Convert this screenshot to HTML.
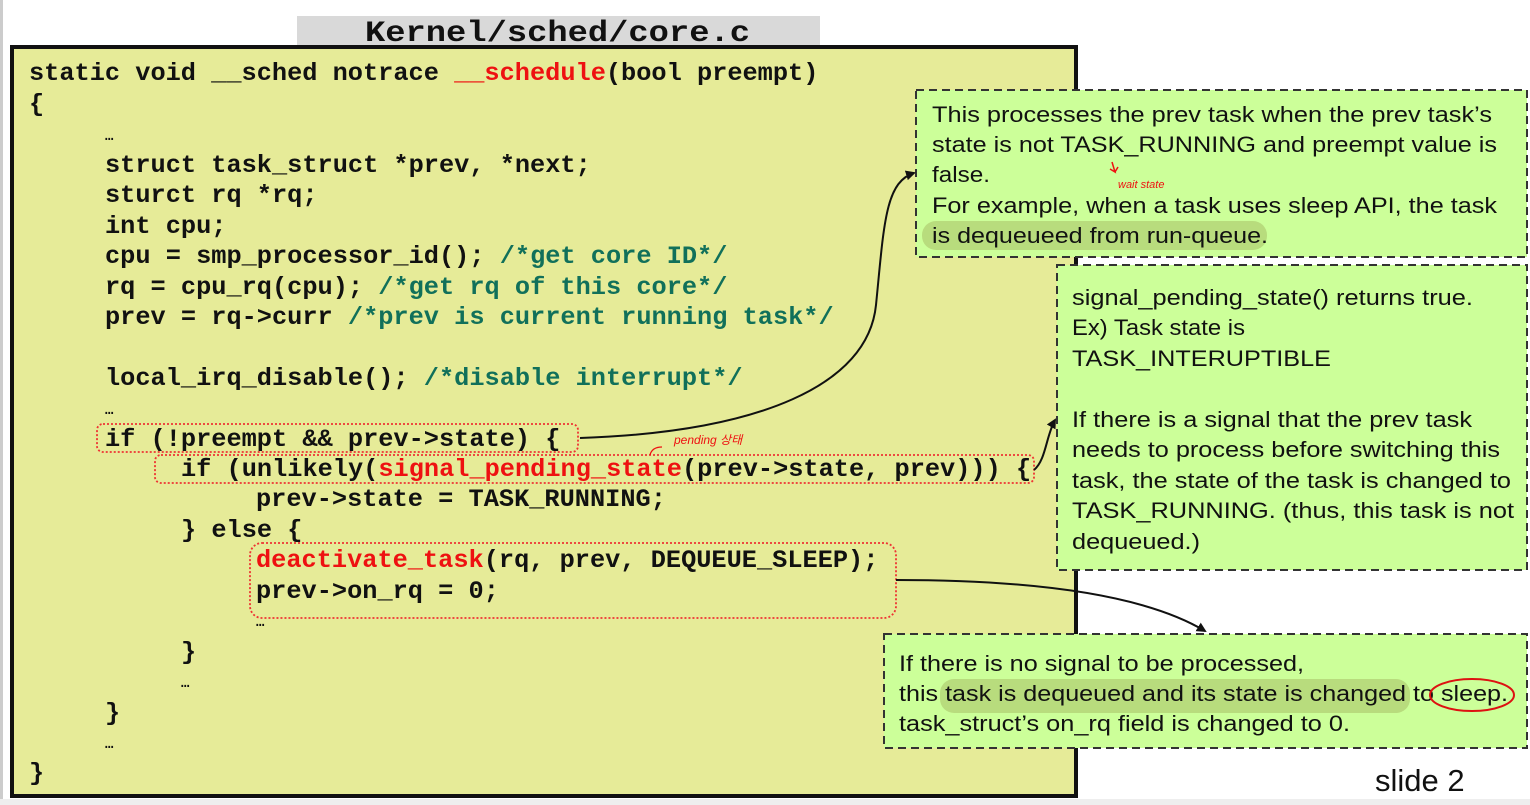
<!DOCTYPE html>
<html><head><meta charset="utf-8"><style>
html,body{margin:0;padding:0;background:#fff;}
svg{display:block}
.c{font-family:"Liberation Mono",monospace;font-weight:bold;font-size:25.3px;fill:#111;}
.r{fill:#ee1111}
.g{fill:#11705a}
.s{font-family:"Liberation Sans",sans-serif;font-size:22px;fill:#111;}
</style></head><body>
<svg width="1530" height="805" viewBox="0 0 1530 805" xmlns="http://www.w3.org/2000/svg">
<rect x="0" y="0" width="1530" height="805" fill="#fff"/>
<rect x="0" y="0" width="3" height="805" fill="#ccc"/>
<rect x="0" y="799" width="1530" height="6" fill="#eee"/>
<!-- title -->
<rect x="297" y="16" width="523" height="30" fill="#d9d9d9"/>
<text x="365" y="41" class="c" style="font-size:30px" textLength="385" lengthAdjust="spacingAndGlyphs">Kernel/sched/core.c</text>
<!-- code box -->
<rect x="12" y="47" width="1064" height="749" fill="#e6eb98" stroke="#111" stroke-width="4"/>
<g class="c">
<text x="29" y="80">static void __sched notrace <tspan class="r">__schedule</tspan>(bool preempt)</text>
<text x="29" y="111">{</text>
<text x="105" y="140" style="font-size:14px">…</text>
<text x="105" y="172">struct task_struct *prev, *next;</text>
<text x="105" y="202">sturct rq *rq;</text>
<text x="105" y="233">int cpu;</text>
<text x="105" y="263">cpu = smp_processor_id(); <tspan class="g">/*get core ID*/</tspan></text>
<text x="105" y="294">rq = cpu_rq(cpu); <tspan class="g">/*get rq of this core*/</tspan></text>
<text x="105" y="324">prev = rq-&gt;curr <tspan class="g">/*prev is current running task*/</tspan></text>
<text x="105" y="385">local_irq_disable(); <tspan class="g">/*disable interrupt*/</tspan></text>
<text x="105" y="414" style="font-size:14px">…</text>
<text x="105" y="446">if (!preempt &amp;&amp; prev-&gt;state) {</text>
<text x="181" y="476">if (unlikely(<tspan class="r">signal_pending_state</tspan>(prev-&gt;state, prev))) {</text>
<text x="256" y="506">prev-&gt;state = TASK_RUNNING;</text>
<text x="181" y="537">} else {</text>
<text x="256" y="567"><tspan class="r">deactivate_task</tspan>(rq, prev, DEQUEUE_SLEEP);</text>
<text x="256" y="598">prev-&gt;on_rq = 0;</text>
<text x="256" y="626" style="font-size:14px">…</text>
<text x="181" y="659">}</text>
<text x="181" y="687" style="font-size:14px">…</text>
<text x="105" y="720">}</text>
<text x="105" y="748" style="font-size:14px">…</text>
<text x="29" y="780">}</text>
</g>
<!-- dotted red boxes -->
<g fill="none" stroke="#ee3333" stroke-width="1.8" stroke-dasharray="2,2">
<rect x="97" y="424" width="481" height="28" rx="6"/>
<rect x="155" y="455" width="879" height="28" rx="6"/>
<rect x="250" y="543" width="646" height="75" rx="12"/>
</g>
<!-- green boxes -->
<g fill="#ccff99" stroke="#333" stroke-width="2" stroke-dasharray="8,5">
<rect x="916" y="90" width="611" height="167"/>
<rect x="1057" y="265" width="470" height="305"/>
<rect x="884" y="634" width="643" height="114"/>
</g>
<!-- highlights -->
<rect x="922" y="221" width="345" height="29" rx="14" fill="#8a8a40" opacity="0.3"/>
<rect x="940" y="679" width="470" height="34" rx="14" fill="#8a8a40" opacity="0.3"/>
<g class="s">
<text x="932" y="122" textLength="560" lengthAdjust="spacingAndGlyphs">This processes the prev task when the prev task’s</text>
<text x="932" y="152" textLength="565" lengthAdjust="spacingAndGlyphs">state is not TASK_RUNNING and preempt value is</text>
<text x="932" y="182" textLength="58" lengthAdjust="spacingAndGlyphs">false.</text>
<text x="932" y="213" textLength="565" lengthAdjust="spacingAndGlyphs">For example, when a task uses sleep API, the task</text>
<text x="932" y="243" textLength="336" lengthAdjust="spacingAndGlyphs">is dequeueed from run-queue.</text>
<text x="1072" y="305" textLength="401" lengthAdjust="spacingAndGlyphs">signal_pending_state() returns true.</text>
<text x="1072" y="335" textLength="173" lengthAdjust="spacingAndGlyphs">Ex) Task state is</text>
<text x="1072" y="366" textLength="259" lengthAdjust="spacingAndGlyphs">TASK_INTERUPTIBLE</text>
<text x="1072" y="427" textLength="400" lengthAdjust="spacingAndGlyphs">If there is a signal that the prev task</text>
<text x="1072" y="457" textLength="428" lengthAdjust="spacingAndGlyphs">needs to process before switching this</text>
<text x="1072" y="488" textLength="439" lengthAdjust="spacingAndGlyphs">task, the state of the task is changed to</text>
<text x="1072" y="518" textLength="442" lengthAdjust="spacingAndGlyphs">TASK_RUNNING. (thus, this task is not</text>
<text x="1072" y="549" textLength="128" lengthAdjust="spacingAndGlyphs">dequeued.)</text>
<text x="899" y="671" textLength="405" lengthAdjust="spacingAndGlyphs">If there is no signal to be processed,</text>
<text x="899" y="701" textLength="609" lengthAdjust="spacingAndGlyphs">this task is dequeued and its state is changed to sleep.</text>
<text x="899" y="731" textLength="451" lengthAdjust="spacingAndGlyphs">task_struct’s on_rq field is changed to 0.</text>
</g>
<text x="1375" y="791" style="font-family:'Liberation Sans',sans-serif;font-size:31px;fill:#111">slide 2</text>
<!-- red ellipse -->
<ellipse cx="1472" cy="695" rx="42" ry="16" fill="none" stroke="#dd1111" stroke-width="2"/>
<!-- handwritten notes -->
<text x="674" y="444" style="font-family:'Liberation Sans','Noto Sans CJK KR',sans-serif;font-size:12px;fill:#e11;font-style:italic">pending 상태</text>
<path d="M650,455 q2,-8 12,-8" fill="none" stroke="#e11" stroke-width="1.3"/>
<text x="1118" y="188" style="font-family:'Liberation Sans',sans-serif;font-size:11px;fill:#e11;font-style:italic">wait state</text>
<path d="M1112,162 l3,10 l-5,-3 m5,3 l3,-5" fill="none" stroke="#e11" stroke-width="1.5"/>
<!-- arrows -->
<defs><marker id="a" markerWidth="10" markerHeight="10" refX="8" refY="5" orient="auto" markerUnits="userSpaceOnUse"><path d="M0,0 L10,5 L0,10 z" fill="#111"/></marker></defs>
<g fill="none" stroke="#111" stroke-width="2">
<path d="M580,438 C760,432 868,385 876,305 C884,225 885,182 914,173" marker-end="url(#a)"/>
<path d="M1034,470 C1046,460 1046,436 1055,420" marker-end="url(#a)"/>
<path d="M896,580 C1050,580 1150,598 1205,631" marker-end="url(#a)"/>
</g>
</svg>
</body></html>
